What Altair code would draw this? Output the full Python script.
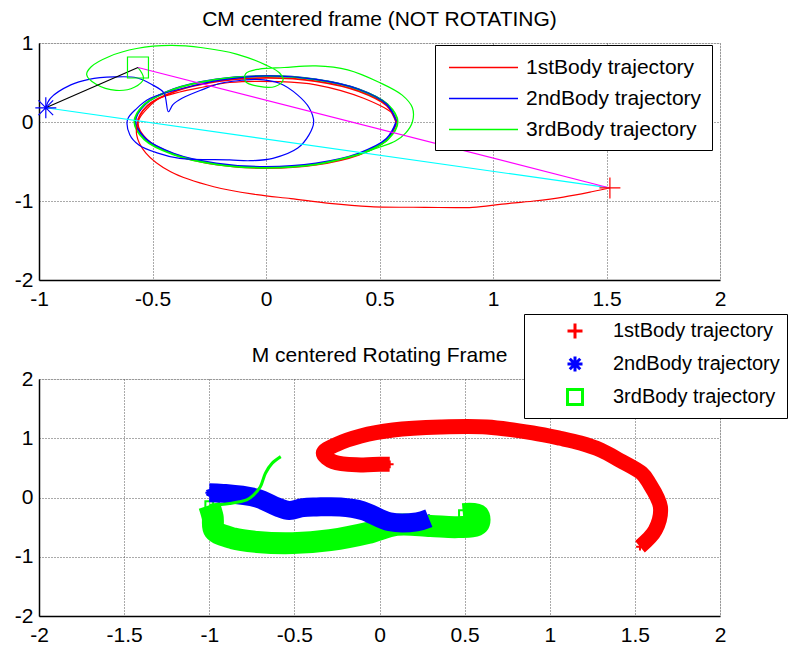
import altair as alt
import pandas as pd

FONT = "Liberation Sans"
FS = 21

BODIES = ["1stBody trajectory", "2ndBody trajectory", "3rdBody trajectory"]
BODY_COLORS = ["#ff0000", "#0000ff", "#00ff00"]

TOP_TITLE = "CM centered frame (NOT ROTATING)"
BOTTOM_TITLE = "M centered Rotating Frame"

TOP_X_TICKS = [-1, -0.5, 0, 0.5, 1, 1.5, 2]
TOP_Y_TICKS = [-2, -1, 0, 1]
BOT_X_TICKS = [-2, -1.5, -1, -0.5, 0, 0.5, 1, 1.5, 2]
BOT_Y_TICKS = [-2, -1, 0, 1, 2]

# ---------------- top panel (CM frame) ----------------
# one pass round the shared orbit, then the final path of each body
RED_LOOP_X = [0.575, 0.532, 0.408, 0.223, 0.005, -0.213, -0.398, -0.522, -0.565, -0.522, -0.398, -0.213, 0.005, 0.223, 0.408, 0.532, 0.575]
RED_LOOP_Y = [-0.012, 0.206, 0.391, 0.515, 0.558, 0.515, 0.391, 0.206, -0.012, -0.230, -0.415, -0.539, -0.582, -0.539, -0.415, -0.230, -0.012]
RED_TAIL_X = [0.56, 0.43, 0.22, 0.06, -0.16, -0.28, -0.38, -0.47, -0.52, -0.56, -0.57, -0.53, -0.42, -0.23, -0.04, 0.11, 0.28, 0.46, 0.70, 0.91, 1.04, 1.18, 1.31, 1.44, 1.515]
RED_TAIL_Y = [0.10, 0.30, 0.47, 0.51, 0.50, 0.44, 0.38, 0.30, 0.18, 0.03, -0.16, -0.39, -0.63, -0.82, -0.92, -0.97, -1.03, -1.07, -1.08, -1.08, -1.04, -1.00, -0.95, -0.88, -0.835]

BLUE_LOOP_X = [0.575, 0.531, 0.407, 0.220, 0.0, -0.220, -0.407, -0.531, -0.575, -0.531, -0.407, -0.220, 0.0, 0.220, 0.407, 0.531, 0.575]
BLUE_LOOP_Y = [0.008, 0.228, 0.415, 0.539, 0.583, 0.539, 0.415, 0.228, 0.008, -0.212, -0.399, -0.523, -0.567, -0.523, -0.399, -0.212, 0.008]
BLUE_TAIL_X = [0.531, 0.407, 0.22, 0.0, -0.20, -0.36, -0.51, -0.57, -0.61, -0.60, -0.56, -0.48, -0.38, -0.16, -0.07, 0.03, 0.14, 0.19, 0.21, 0.19, 0.14, 0.06, -0.04, -0.10, -0.20, -0.28, -0.37, -0.41, -0.43, -0.45, -0.50, -0.57, -0.67, -0.78, -0.86, -0.95, -0.97]
BLUE_TAIL_Y = [0.228, 0.415, 0.539, 0.583, 0.53, 0.43, 0.30, 0.17, 0.03, -0.16, -0.29, -0.39, -0.46, -0.48, -0.49, -0.46, -0.33, -0.16, 0.0, 0.18, 0.34, 0.49, 0.54, 0.53, 0.49, 0.41, 0.30, 0.22, 0.13, 0.37, 0.47, 0.56, 0.57, 0.54, 0.47, 0.30, 0.18]

GREEN_LOOP_X = [0.410, 0.536, 0.58, 0.536, 0.410, 0.222, 0.0, -0.222, -0.410, -0.536, -0.58, -0.536, -0.410, -0.222, 0.0, 0.222, 0.410]
GREEN_LOOP_Y = [-0.410, -0.222, 0.0, 0.222, 0.410, 0.536, 0.58, 0.536, 0.410, 0.222, 0.0, -0.222, -0.410, -0.536, -0.58, -0.536, -0.410]
GREEN_TAIL_X = [0.50, 0.57, 0.615, 0.645, 0.645, 0.60, 0.50, 0.36, 0.22, 0.08, -0.03, -0.09, -0.09, -0.03, 0.04, 0.075, 0.06, 0.0, -0.13, -0.28, -0.42, -0.57, -0.69, -0.77, -0.79, -0.75, -0.66, -0.58, -0.54, -0.564]
GREEN_TAIL_Y = [-0.32, -0.24, -0.14, 0.0, 0.18, 0.34, 0.50, 0.66, 0.71, 0.69, 0.67, 0.61, 0.51, 0.45, 0.45, 0.53, 0.62, 0.72, 0.86, 0.94, 0.97, 0.93, 0.83, 0.70, 0.60, 0.48, 0.40, 0.44, 0.55, 0.69]

# current positions of the three bodies (+, *, square)
TOP_END_X = [1.515, -0.97, -0.564]
TOP_END_Y = [-0.835, 0.18, 0.69]
# connecting segments: from body index -> to body index
CONNECT_FROM = [1, 2, 1]
CONNECT_TO = [0, 0, 2]
CONNECT_COLORS = ["#00ffff", "#ff00ff", "#000000"]

# ---------------- bottom panel (rotating frame) ----------------
BOT_RED_X = [0.06, 0.0, -0.11, -0.27, -0.33, -0.25, -0.11, 0.08, 0.36, 0.63, 0.90, 1.06, 1.18, 1.30, 1.41, 1.54, 1.58, 1.65, 1.62, 1.53]
BOT_RED_Y = [0.56, 0.56, 0.55, 0.60, 0.75, 0.90, 1.04, 1.14, 1.19, 1.19, 1.09, 1.00, 0.92, 0.80, 0.63, 0.41, 0.26, -0.16, -0.55, -0.83]

BOT_BLUE_X = [-1.0, -0.92, -0.72, -0.60, -0.53, -0.45, -0.37, -0.23, -0.10, 0.06, 0.22, 0.29]
BOT_BLUE_Y = [0.08, 0.07, -0.01, -0.16, -0.22, -0.17, -0.16, -0.16, -0.22, -0.41, -0.41, -0.35]

BOT_GREEN_X = [-1.0, -0.98, -0.97, -0.86, -0.72, -0.51, -0.29, -0.07, 0.10, 0.30, 0.46, 0.58, 0.58, 0.49]
BOT_GREEN_Y = [-0.13, -0.33, -0.55, -0.69, -0.75, -0.77, -0.72, -0.60, -0.46, -0.48, -0.50, -0.45, -0.30, -0.28]

BOT_GREEN_THIN_X = [-0.58, -0.63, -0.67, -0.70, -0.74, -0.78, -0.88, -1.0]
BOT_GREEN_THIN_Y = [0.69, 0.58, 0.41, 0.18, 0.04, -0.04, -0.10, -0.13]

PLUS = "M-1,0L1,0M0,-1L0,1"
STAR = "M-1,0L1,0M0,-1L0,1M-0.7,-0.7L0.7,0.7M-0.7,0.7L0.7,-0.7"
LEGEND_LINE = "M-3,0L3,0"
BODY_SHAPES = [PLUS, STAR, "square"]


def path_frame(name, xs, ys):
    return pd.DataFrame({"body": name, "x": xs, "y": ys, "i": list(range(len(xs)))})


top_loops = pd.concat([
    path_frame(BODIES[0], RED_LOOP_X, RED_LOOP_Y),
    path_frame(BODIES[1], BLUE_LOOP_X, BLUE_LOOP_Y),
    path_frame(BODIES[2], GREEN_LOOP_X, GREEN_LOOP_Y),
], ignore_index=True)
top_tails = pd.concat([
    path_frame(BODIES[0], RED_LOOP_X[-1:] + RED_TAIL_X, RED_LOOP_Y[-1:] + RED_TAIL_Y),
    path_frame(BODIES[1], BLUE_LOOP_X[-1:] + BLUE_TAIL_X, BLUE_LOOP_Y[-1:] + BLUE_TAIL_Y),
    path_frame(BODIES[2], GREEN_LOOP_X[-1:] + GREEN_TAIL_X, GREEN_LOOP_Y[-1:] + GREEN_TAIL_Y),
], ignore_index=True)

top_ends = pd.DataFrame({"x": TOP_END_X, "y": TOP_END_Y, "shape": BODY_SHAPES, "col": BODY_COLORS})
connect = pd.DataFrame({
    "x": [TOP_END_X[i] for i in CONNECT_FROM],
    "y": [TOP_END_Y[i] for i in CONNECT_FROM],
    "x2": [TOP_END_X[i] for i in CONNECT_TO],
    "y2": [TOP_END_Y[i] for i in CONNECT_TO],
    "col": CONNECT_COLORS,
})


def axis(values, orient):
    return alt.Axis(
        values=values, title=None, grid=True, ticks=False, tickSize=0,
        labelFont=FONT, labelFontSize=FS, labelColor="black",
        labelPadding=8 if orient == "x" else 6, labelOverlap=False, labelFlush=False,
        labelExpr="'' + datum.value",
        domainColor="black", domainWidth=1.5,
        gridColor="#555555", gridDash=[1, 2], gridWidth=1,
    )


def title(text, offset):
    return alt.TitleParams(text=text, font=FONT, fontSize=FS, fontWeight="normal", color="black",
                           offset=offset, frame="group")


tx = alt.X("x:Q", scale=alt.Scale(domain=[-1, 2], nice=False, zero=False), axis=axis(TOP_X_TICKS, "x"))
ty = alt.Y("y:Q", scale=alt.Scale(domain=[-2, 1], nice=False, zero=False), axis=axis(TOP_Y_TICKS, "y"))

top_legend = alt.Legend(title=None, orient="none", legendX=396, legendY=2,
                        symbolType=LEGEND_LINE, symbolSize=529, symbolStrokeWidth=1.5,
                        labelFont=FONT, labelFontSize=FS, labelLimit=400, labelOffset=30,
                        padding=10, rowPadding=8, symbolOffset=26,
                        strokeColor="black", fillColor="white")
top_color = alt.Color("body:N", scale=alt.Scale(domain=BODIES, range=BODY_COLORS), legend=top_legend)

top_loop_lines = alt.Chart(top_loops).mark_line(strokeWidth=1.8, interpolate="catmull-rom", clip=True).encode(
    x=tx, y=ty, order="i:Q", color=top_color)
top_tail_lines = alt.Chart(top_tails).mark_line(strokeWidth=1.2, interpolate="catmull-rom", clip=True).encode(
    x=tx, y=ty, order="i:Q", color=top_color)
top_conn = alt.Chart(connect).mark_rule(strokeWidth=1.2).encode(
    x="x:Q", y="y:Q", x2="x2:Q", y2="y2:Q", color=alt.Color("col:N", scale=None))
top_marks = alt.Chart(top_ends).mark_point(filled=False, size=440, strokeWidth=1.2, opacity=1).encode(
    x="x:Q", y="y:Q", shape=alt.Shape("shape:N", scale=None), color=alt.Color("col:N", scale=None))

top = alt.layer(top_loop_lines, top_tail_lines, top_conn, top_marks).properties(
    width=681, height=237, title=title(TOP_TITLE, 2)
)

# bottom
bx = alt.X("x:Q", scale=alt.Scale(domain=[-2, 2], nice=False, zero=False), axis=axis(BOT_X_TICKS, "x"))
by = alt.Y("y:Q", scale=alt.Scale(domain=[-2, 2], nice=False, zero=False), axis=axis(BOT_Y_TICKS, "y"))

bot_pts_df = pd.concat([
    path_frame(BODIES[0], BOT_RED_X, BOT_RED_Y),
    path_frame(BODIES[1], BOT_BLUE_X, BOT_BLUE_Y),
    path_frame(BODIES[2], BOT_GREEN_X, BOT_GREEN_Y),
], ignore_index=True)

bot_legend = alt.Legend(title=None, orient="none", legendX=485, legendY=-65,
                        symbolSize=225, symbolStrokeWidth=3,
                        labelFont=FONT, labelFontSize=20, labelLimit=400, labelOffset=28,
                        padding=7, rowPadding=5, symbolOffset=34,
                        strokeColor="black", fillColor="white")

bot_pts = alt.Chart(bot_pts_df).mark_point(filled=False, size=60, strokeWidth=2, opacity=1).encode(
    x=bx, y=by,
    color=alt.Color("body:N", scale=alt.Scale(domain=BODIES, range=BODY_COLORS), legend=bot_legend),
    shape=alt.Shape("body:N", scale=alt.Scale(domain=BODIES, range=BODY_SHAPES), legend=bot_legend),
)


def band(xs, ys, color, width):
    return alt.Chart(path_frame("b", xs, ys)).mark_line(
        color=color, strokeWidth=width, interpolate="catmull-rom", strokeJoin="round", clip=True
    ).encode(x="x:Q", y="y:Q", order="i:Q")


bottom = alt.layer(
    bot_pts,
    band(BOT_RED_X, BOT_RED_Y, BODY_COLORS[0], 15),
    band(BOT_GREEN_X, BOT_GREEN_Y, BODY_COLORS[2], 22),
    band(BOT_BLUE_X, BOT_BLUE_Y, BODY_COLORS[1], 19),
    band(BOT_GREEN_THIN_X, BOT_GREEN_THIN_Y, BODY_COLORS[2], 3),
).properties(width=681, height=237, title=title(BOTTOM_TITLE, -52))

chart = alt.vconcat(top, bottom, spacing=99, bounds="flush").resolve_scale(
    color="independent", shape="independent"
).resolve_legend(color="independent", shape="independent").properties(
    padding={"left": 13, "top": 8, "right": 0, "bottom": 0}
).configure_view(stroke="black", strokeWidth=1).configure(background="white")

chart.save("out.html", embed_options={"renderer": "svg", "actions": False})
